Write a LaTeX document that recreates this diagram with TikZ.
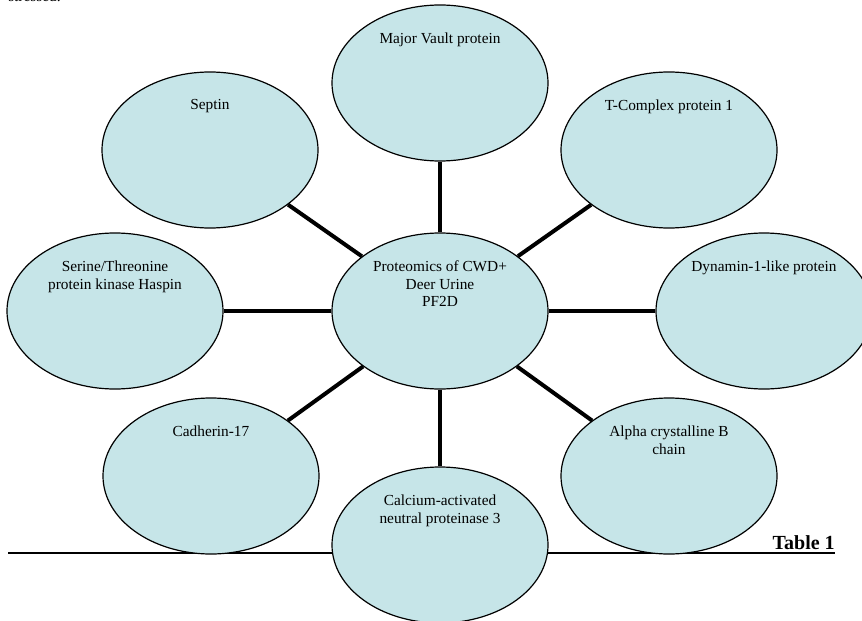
\documentclass[tikz,border=0pt]{standalone}
\usepackage{fontspec}
\setmainfont{Liberation Serif}
\usetikzlibrary{shapes.geometric}
\definecolor{bubblefill}{RGB}{198,229,232}
\begin{document}
\begin{tikzpicture}[x=0.75pt,y=-0.75pt,every node/.style={font=\fontsize{11.5}{13.3}\selectfont},
  bubble/.style={draw,ellipse,fill=bubblefill,line width=0.9pt,minimum width=162pt,minimum height=117pt,inner sep=0pt},
  txt/.style={anchor=north,yshift=-21pt,align=center,inner sep=0pt},
  spoke/.style={line width=3pt}]
  \useasboundingbox (0,0) rectangle (862,620);
  \clip (0,0) rectangle (862,620);
  \node[anchor=base west,inner sep=0pt] (prev) at (8,1.5) {stressed.};
  \draw[line width=1pt] (8,553) -- (835,553);
  \node[anchor=base east,inner sep=0pt,font=\fontsize{15}{18}\selectfont\bfseries] (tab) at (835,549) {Table 1};
  % outer proteins
  \node[bubble,label={[txt]north:Major Vault protein}] (vault) at (440,83) {};
  \node[bubble,label={[txt]north:T-Complex protein 1}] (tcp) at (669,150) {};
  \node[bubble,label={[txt]north:Dynamin-1-like protein}] (dynamin) at (764,311) {};
  \node[bubble,label={[txt]north:Alpha crystalline B\\chain}] (alpha) at (669,476) {};
  \node[bubble,label={[txt]north:Calcium-activated\\neutral proteinase 3}] (calpain) at (440,545) {};
  \node[bubble,label={[txt]north:Cadherin-17}] (cadherin) at (211,476) {};
  \node[bubble,label={[txt]north:Serine/Threonine\\protein kinase Haspin}] (haspin) at (115,311) {};
  \node[bubble,label={[txt]north:Septin}] (septin) at (210,150) {};
  % centre
  \node[bubble,label={[txt]north:Proteomics of CWD+\\Deer Urine\\PF2D}] (hub) at (440,311) {};
  \foreach \n in {vault,tcp,dynamin,alpha,calpain,cadherin,haspin,septin}
    \draw[spoke] (hub) -- (\n);
\end{tikzpicture}
\end{document}
